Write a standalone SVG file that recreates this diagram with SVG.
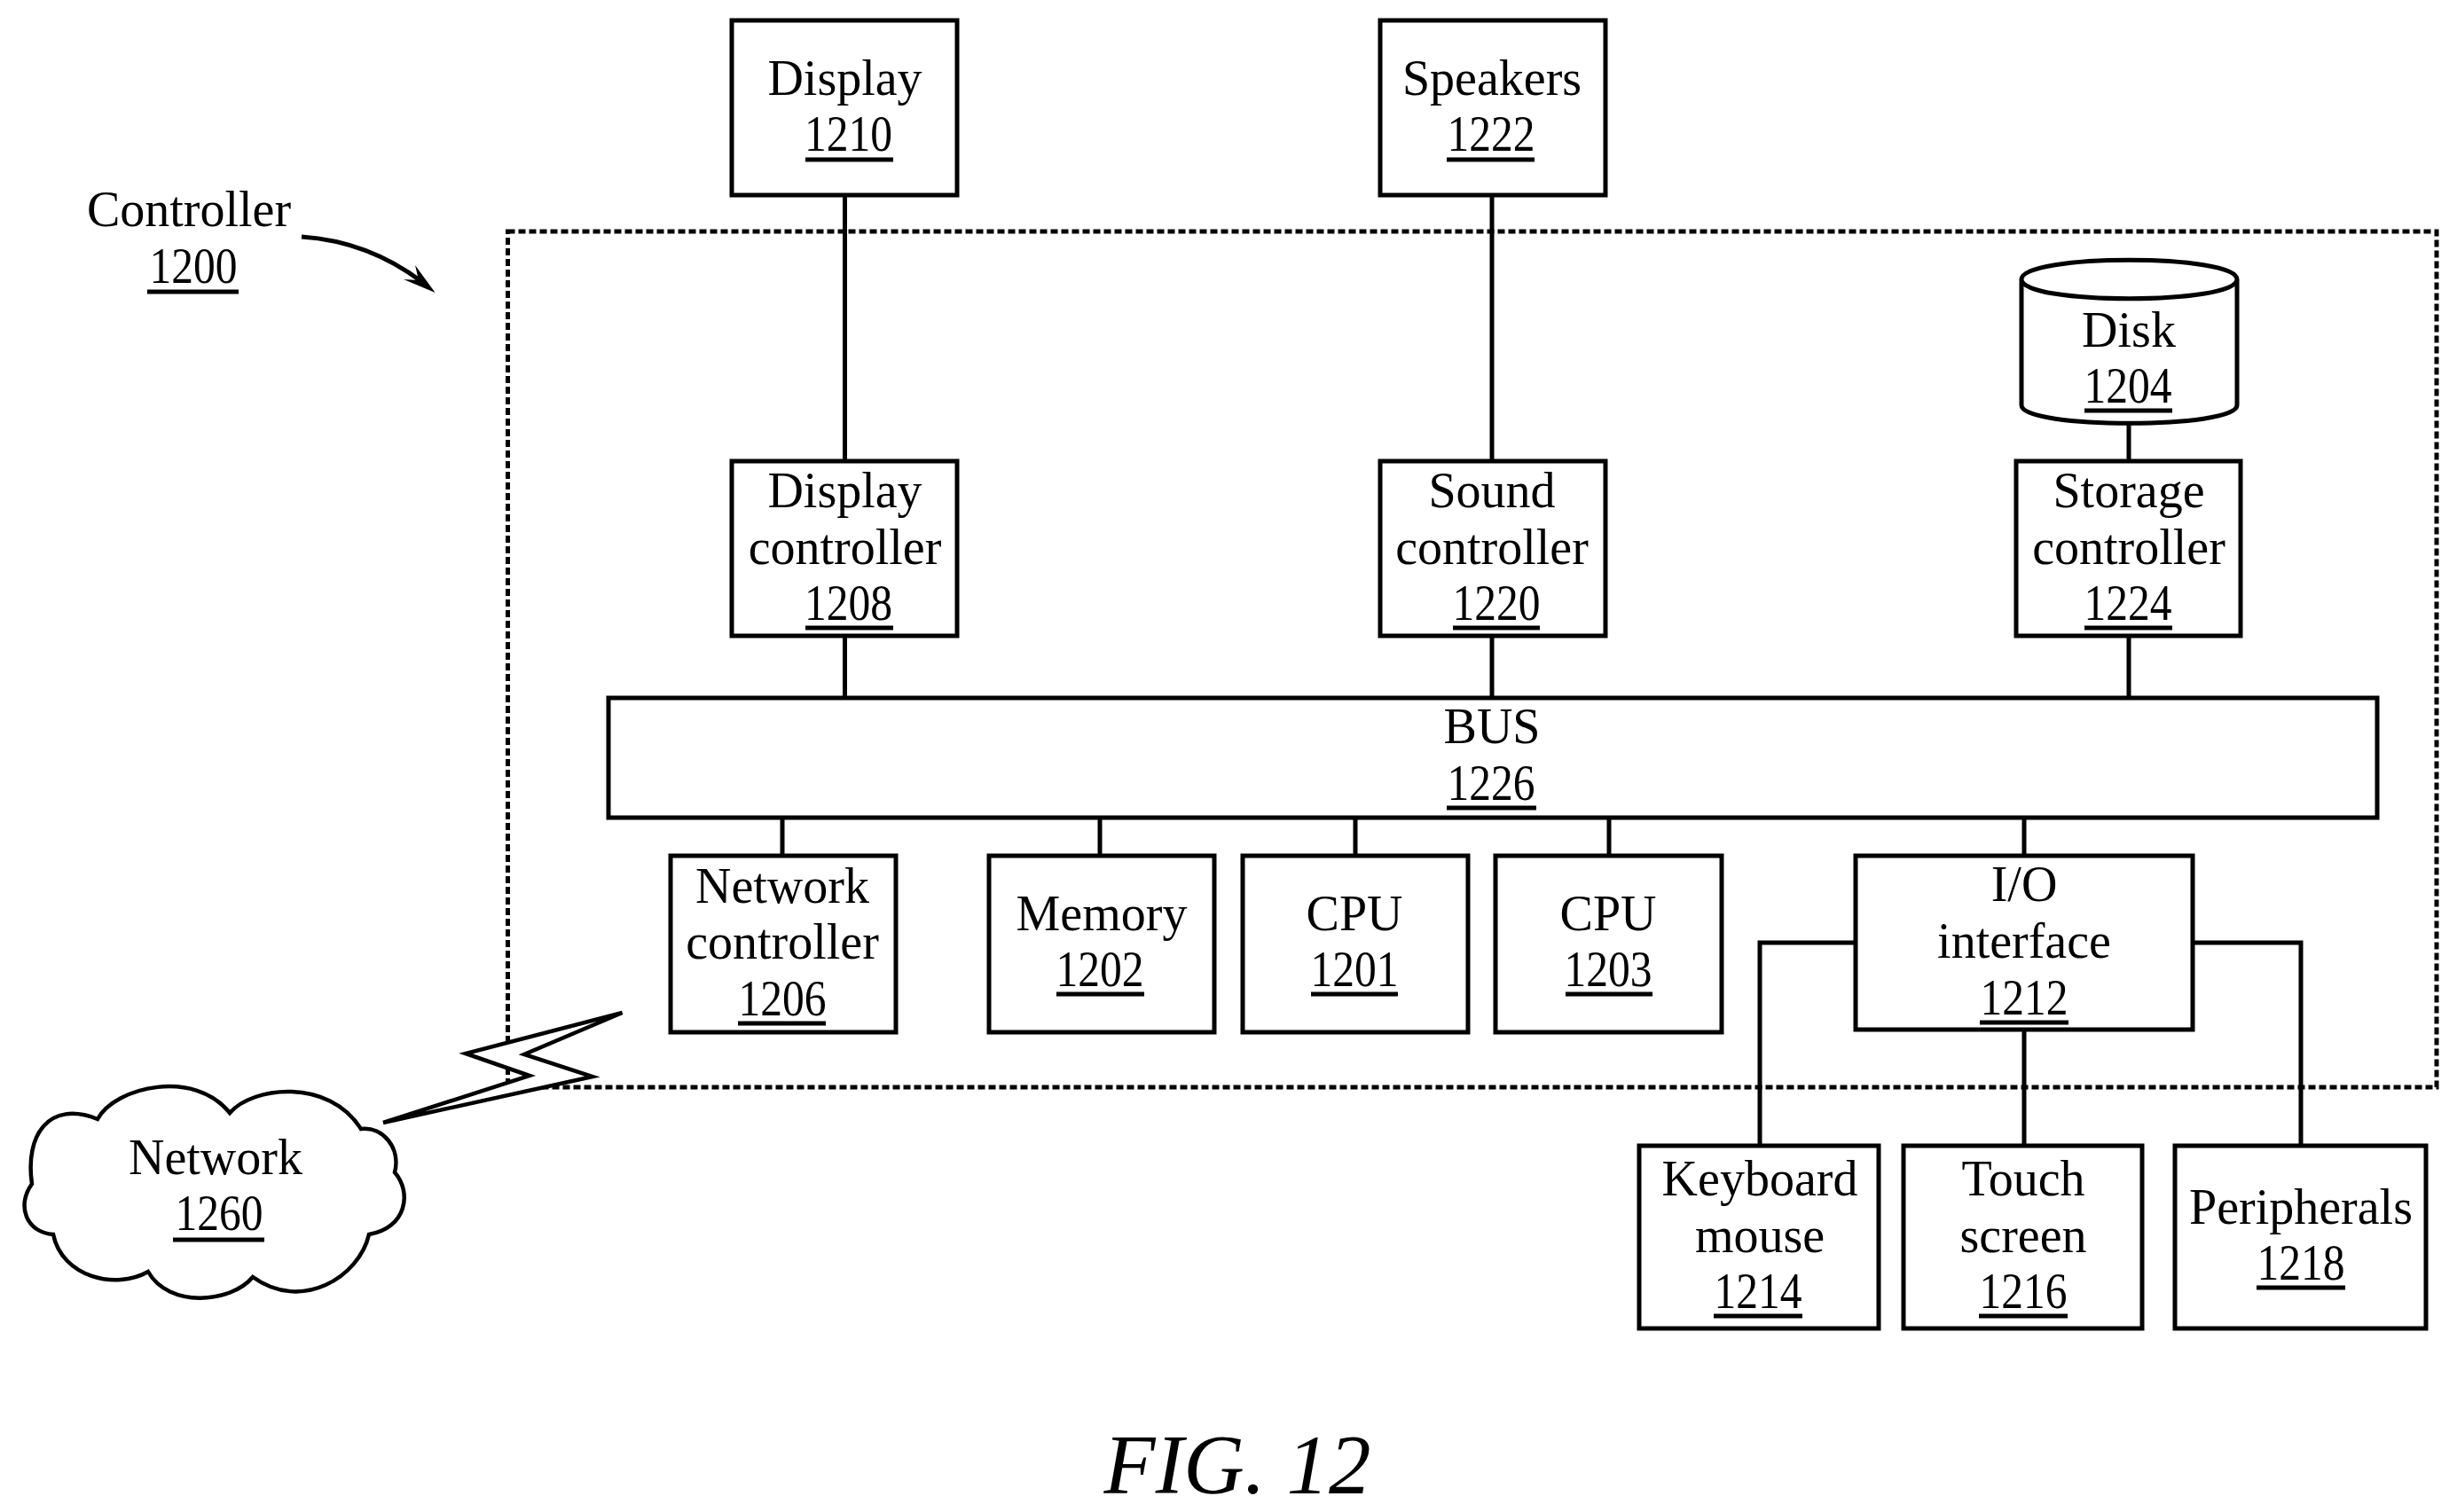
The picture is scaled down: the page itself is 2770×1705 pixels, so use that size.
<svg xmlns="http://www.w3.org/2000/svg" width="2770" height="1705" viewBox="0 0 2770 1705">
<style>
text{font-family:"Liberation Serif","Times New Roman",serif;font-size:56px;fill:#000;text-anchor:middle}
.box{fill:#fff;stroke:#000;stroke-width:5}
.thin{fill:#fff;stroke:#000;stroke-width:4.500}
.ln{fill:none;stroke:#000;stroke-width:5}
.ul{stroke:#000;stroke-width:5;fill:none}
.fig{font-style:italic;font-size:95px}
</style>
<rect width="2770" height="1705" fill="#fff"/>
<rect id="controller-boundary" x="572.500" y="261" width="2174.500" height="965" fill="none" stroke="#000" stroke-width="5" stroke-dasharray="8 4"/>
<g id="connectors" class="ln">
<path d="M952.500 220V520M1682 220V520M2400 477V520M952.500 717V786M1682 717V786M2400 717V786"/>
<path d="M882 922V965M1240 922V965M1528 922V965M1814 922V965M2282 922V965"/>
<path d="M2092 1063H1984V1292M2282 1161V1292M2472 1063H2594V1292"/>
<path d="M340 267Q415 272 476 318"/>
<polygon points="490.6,330 468,299 472,316 455,315" fill="#000" stroke="none"/>
</g>
<g id="n1210"><rect class="box" x="825" y="23" width="254" height="197"/><text x="952.500" y="107">Display</text><text x="956.500" y="170" textLength="99" lengthAdjust="spacingAndGlyphs">1210</text><path class="ul" d="M908 180H1007"/></g>
<g id="n1222"><rect class="box" x="1556" y="23" width="254" height="197"/><text x="1682" y="107">Speakers</text><text x="1681" y="170" textLength="99" lengthAdjust="spacingAndGlyphs">1222</text><path class="ul" d="M1631 180H1730"/></g>
<g id="n1208"><rect class="box" x="825" y="520" width="254" height="197"/><text x="952.500" y="572">Display</text><text x="952.500" y="636">controller</text><text x="956.500" y="699" textLength="99" lengthAdjust="spacingAndGlyphs">1208</text><path class="ul" d="M908 708H1007"/></g>
<g id="n1220"><rect class="box" x="1556" y="520" width="254" height="197"/><text x="1682" y="572">Sound</text><text x="1682" y="636">controller</text><text x="1687" y="699" textLength="99" lengthAdjust="spacingAndGlyphs">1220</text><path class="ul" d="M1638 708H1736"/></g>
<g id="n1224"><rect class="box" x="2273" y="520" width="253" height="197"/><text x="2400" y="572">Storage</text><text x="2400" y="636">controller</text><text x="2399" y="699" textLength="99" lengthAdjust="spacingAndGlyphs">1224</text><path class="ul" d="M2350 708H2449"/></g>
<g id="n1204"><path class="box" d="M2279 315V457C2279 484 2522 484 2522 457V315C2522 286 2279 286 2279 315C2279 344 2522 344 2522 315"/><text x="2400" y="391">Disk</text><text x="2399" y="454" textLength="99" lengthAdjust="spacingAndGlyphs">1204</text><path class="ul" d="M2350 463H2449"/></g>
<g id="n1226"><rect class="box" x="686" y="787" width="1994" height="135"/><text x="1682" y="838">BUS</text><text x="1681" y="902" textLength="99" lengthAdjust="spacingAndGlyphs">1226</text><path class="ul" d="M1631 911H1732"/></g>
<g id="n1206"><rect class="box" x="756" y="965" width="254" height="199"/><text x="882" y="1018">Network</text><text x="882" y="1081">controller</text><text x="882" y="1145" textLength="99" lengthAdjust="spacingAndGlyphs">1206</text><path class="ul" d="M832 1154H931"/></g>
<g id="n1202"><rect class="box" x="1115" y="965" width="254" height="199"/><text x="1242" y="1049">Memory</text><text x="1240" y="1112" textLength="99" lengthAdjust="spacingAndGlyphs">1202</text><path class="ul" d="M1191 1121H1290"/></g>
<g id="n1201"><rect class="box" x="1401" y="965" width="254" height="199"/><text x="1527" y="1049">CPU</text><text x="1527" y="1112" textLength="99" lengthAdjust="spacingAndGlyphs">1201</text><path class="ul" d="M1478 1121H1576"/></g>
<g id="n1203"><rect class="box" x="1686" y="965" width="255" height="199"/><text x="1813" y="1049">CPU</text><text x="1813" y="1112" textLength="99" lengthAdjust="spacingAndGlyphs">1203</text><path class="ul" d="M1765 1121H1863"/></g>
<g id="n1212"><rect class="box" x="2092" y="965" width="380" height="196"/><text x="2282" y="1016">I/O</text><text x="2282" y="1080">interface</text><text x="2282" y="1144" textLength="99" lengthAdjust="spacingAndGlyphs">1212</text><path class="ul" d="M2232 1153H2332"/></g>
<g id="n1214"><rect class="box" x="1848" y="1292" width="270" height="206"/><text x="1984" y="1348">Keyboard</text><text x="1984" y="1412">mouse</text><text x="1982" y="1475" textLength="99" lengthAdjust="spacingAndGlyphs">1214</text><path class="ul" d="M1932 1484H2032"/></g>
<g id="n1216"><rect class="box" x="2146" y="1292" width="269" height="206"/><text x="2281" y="1348">Touch</text><text x="2281" y="1412">screen</text><text x="2281" y="1475" textLength="99" lengthAdjust="spacingAndGlyphs">1216</text><path class="ul" d="M2231 1484H2331"/></g>
<g id="n1218"><rect class="box" x="2452" y="1292" width="283" height="206"/><text x="2594" y="1380">Peripherals</text><text x="2594" y="1443" textLength="99" lengthAdjust="spacingAndGlyphs">1218</text><path class="ul" d="M2544 1452H2644"/></g>
<g id="n1260"><path class="thin" d="M110 1262C130 1225 220 1205 259 1255C285 1225 370 1215 407 1273C432 1270 452 1295 445 1322C465 1345 458 1385 416 1392C405 1440 340 1480 285 1440C260 1470 190 1475 167 1434C130 1455 70 1440 60 1392C30 1390 18 1360 36 1335C28 1280 55 1240 110 1262Z"/><text x="243" y="1324">Network</text><text x="247" y="1387" textLength="99" lengthAdjust="spacingAndGlyphs">1260</text><path class="ul" d="M195 1398H298"/></g>
<polygon id="link" class="thin" points="701.500,1142 525,1188 597,1213 432,1266 668,1214 591,1189"/>
<g id="n1200"><text x="213" y="255">Controller</text><text x="218" y="319" textLength="99" lengthAdjust="spacingAndGlyphs">1200</text><path class="ul" d="M166 329H269"/></g>
<text class="fig" x="1395" y="1684">FIG. 12</text>
</svg>
